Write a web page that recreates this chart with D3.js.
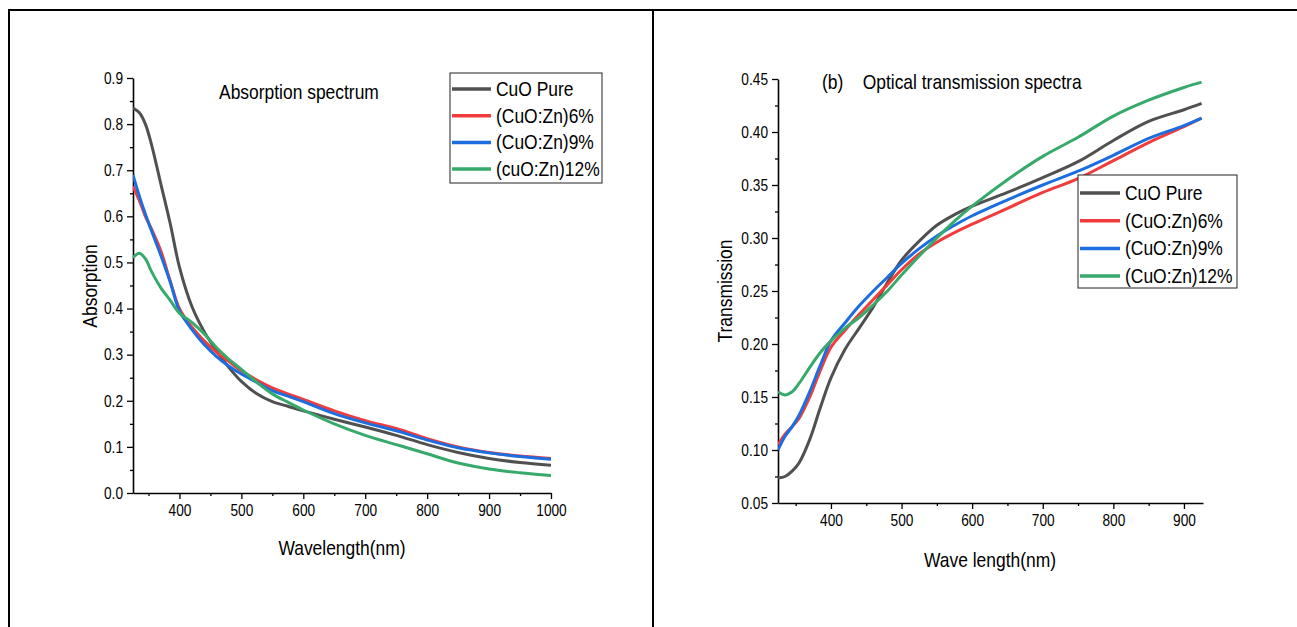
<!DOCTYPE html>
<html>
<head>
<meta charset="utf-8">
<script src="https://cdn.jsdelivr.net/npm/d3@7"></script>
<style>
  body { margin: 0; background: #fff; }
  text { font-family: "Liberation Sans", Arial, sans-serif; fill: #000; }
</style>
</head>
<body>
<div id="chart"></div>
<script>
// series names + colours
const seriesNames = ["CuO Pure", "(CuO:Zn)6%", "(CuO:Zn)9%", "(cuO:Zn)12%"];
const seriesNamesB = ["CuO Pure", "(CuO:Zn)6%", "(CuO:Zn)9%", "(CuO:Zn)12%"];
const colors = ["#505050", "#f03c3c", "#1c6ee0", "#37a96a"];

// (a) absorption
const absW = [325, 335, 345, 355, 370, 385, 400, 420, 440, 460, 480, 500, 525, 550, 575, 600, 650, 700, 750, 800, 850, 900, 950, 1000];
const absPure = [.835, .825, .80, .755, .67, .585, .49, .405, .35, .308, .272, .242, .215, .198, .188, .178, .16, .143, .125, .105, .088, .075, .066, .06];
const abs6 = [.665, .635, .60, .572, .525, .46, .40, .36, .33, .305, .285, .265, .245, .228, .215, .203, .178, .157, .14, .118, .10, .088, .08, .075];
const abs9 = [.69, .645, .605, .568, .515, .458, .395, .355, .322, .296, .275, .258, .24, .222, .21, .198, .172, .152, .135, .115, .098, .087, .079, .073];
const abs12 = [.51, .52, .508, .48, .445, .418, .39, .37, .345, .315, .29, .268, .24, .215, .197, .18, .15, .125, .105, .085, .065, .052, .044, .038];
const absXTicks = [400, 500, 600, 700, 800, 900, 1000];
const absYTicks = [0, .1, .2, .3, .4, .5, .6, .7, .8, .9];

// (b) transmission
const trW = [325, 335, 345, 355, 370, 385, 400, 420, 440, 460, 480, 500, 525, 550, 575, 600, 650, 700, 750, 800, 850, 900, 925];
const trPure = [.0735, .075, .08, .088, .11, .14, .168, .195, .215, .235, .258, .279, .297, .312, .322, .33, .343, .357, .372, .392, .41, .421, .427];
const tr6 = [.105, .115, .122, .13, .15, .175, .197, .213, .228, .242, .256, .27, .285, .296, .305, .313, .328, .343, .356, .373, .39, .405, .413];
const tr9 = [.10, .113, .122, .133, .155, .18, .203, .22, .236, .25, .263, .276, .29, .302, .312, .321, .336, .35, .363, .378, .394, .406, .413];
const tr12 = [.155, .152, .155, .163, .178, .192, .203, .215, .225, .237, .25, .265, .283, .30, .316, .33, .355, .377, .395, .415, .43, .442, .447];
const trXTicks = [400, 500, 600, 700, 800, 900];
const trYTicks = [.05, .10, .15, .20, .25, .30, .35, .40, .45];

const W = 1297, H = 627;
const svg = d3.select("#chart").append("svg")
  .attr("width", W).attr("height", H);

// outer frame lines
svg.append("line").attr("x1", 8).attr("x2", W).attr("y1", 10).attr("y2", 10)
  .attr("stroke", "#000").attr("stroke-width", 2);
svg.append("line").attr("x1", 9).attr("x2", 9).attr("y1", 10).attr("y2", H)
  .attr("stroke", "#000").attr("stroke-width", 2);
svg.append("line").attr("x1", 653).attr("x2", 653).attr("y1", 10).attr("y2", H)
  .attr("stroke", "#000").attr("stroke-width", 2);

function drawPanel(cfg) {
  const x = d3.scaleLinear().domain(cfg.xDomain).range([cfg.left, cfg.right]);
  const y = d3.scaleLinear().domain(cfg.yDomain).range([cfg.bottom, cfg.top]);
  const g = svg.append("g");

  // minor ticks
  g.append("g").attr("transform", `translate(0,${cfg.bottom})`)
    .call(d3.axisBottom(x).tickValues(cfg.xMinor).tickSize(3).tickFormat("").tickSizeOuter(0))
    .call(a => a.select(".domain").remove());
  g.append("g").attr("transform", `translate(${cfg.left},0)`)
    .call(d3.axisLeft(y).tickValues(cfg.yMinor).tickSize(3).tickFormat("").tickSizeOuter(0))
    .call(a => a.select(".domain").remove());

  // major axes
  const xa = g.append("g").attr("transform", `translate(0,${cfg.bottom})`)
    .call(d3.axisBottom(x).tickValues(cfg.xTicks).tickSize(6).tickSizeOuter(0).tickPadding(5)
      .tickFormat(d3.format("d")));
  const ya = g.append("g").attr("transform", `translate(${cfg.left},0)`)
    .call(d3.axisLeft(y).tickValues(cfg.yTicks).tickSize(6).tickSizeOuter(0).tickPadding(4)
      .tickFormat(d3.format(cfg.yFmt)));
  [xa, ya].forEach(a => {
    a.attr("font-family", null).attr("font-size", null);
    a.selectAll("text").style("font-size", "16.5px");
    a.select(".domain").attr("stroke-width", 1.6);
  });
  g.selectAll(".tick line").attr("stroke-width", 1.3);

  // axis titles
  g.append("text").attr("x", cfg.xTitleX).attr("y", cfg.xTitleY)
    .attr("text-anchor", "middle").style("font-size", "21px").text(cfg.xTitle);
  g.append("text").attr("transform", `translate(${cfg.yTitleX},${cfg.yTitleY}) rotate(-90)`)
    .attr("text-anchor", "middle").style("font-size", "21px").text(cfg.yTitle);

  // plot title
  g.append("text").attr("x", cfg.titleX).attr("y", cfg.titleY)
    .style("font-size", "21px").attr("xml:space", "preserve").text(cfg.title);

  // curves
  const clipId = "clip" + cfg.left;
  svg.append("clipPath").attr("id", clipId).append("rect")
    .attr("x", cfg.left).attr("y", cfg.top - 5)
    .attr("width", cfg.right - cfg.left).attr("height", cfg.bottom - cfg.top + 5);
  const line = d3.line().x(d => x(d[0])).y(d => y(d[1])).curve(d3.curveCatmullRom.alpha(0.5));
  g.append("g").attr("clip-path", `url(#${clipId})`)
    .selectAll("path")
    .data(cfg.series)
    .join("path")
    .attr("d", s => line(cfg.xs.map((w, i) => [w, s[i]])))
    .attr("fill", "none")
    .attr("stroke", (s, i) => colors[i])
    .attr("stroke-width", 3)
    .attr("stroke-linejoin", "round");

  // legend
  const lg = g.append("g").attr("transform", `translate(${cfg.legX},${cfg.legY})`);
  lg.append("rect").attr("width", cfg.legW).attr("height", cfg.legH)
    .attr("fill", "#fff").attr("stroke", "#222").attr("stroke-width", 1);
  cfg.names.forEach((n, i) => {
    const yy = cfg.legRow0 + i * cfg.legStep;
    lg.append("line").attr("x1", 2).attr("x2", cfg.legLine).attr("y1", yy).attr("y2", yy)
      .attr("stroke", colors[i]).attr("stroke-width", 3.5);
    lg.append("text").attr("x", cfg.legLine + 5).attr("y", yy + 7)
      .style("font-size", "21px").text(n);
  });
}

drawPanel({
  xDomain: [325, 1000], yDomain: [0, 0.9],
  left: 133, right: 551, top: 78, bottom: 493,
  xTicks: absXTicks, yTicks: absYTicks, yFmt: ".1f",
  xMinor: d3.range(350, 1000, 100), yMinor: d3.range(0.05, 0.9, 0.1),
  xTitle: "Wavelength(nm)", xTitleX: 342, xTitleY: 555,
  yTitle: "Absorption", yTitleX: 97, yTitleY: 286,
  title: "Absorption spectrum", titleX: 219, titleY: 99,
  xs: absW, series: [absPure, abs6, abs9, abs12], names: seriesNames,
  legX: 450, legY: 73, legW: 152, legH: 110, legLine: 41, legRow0: 16, legStep: 26.7
});

drawPanel({
  xDomain: [325, 927], yDomain: [0.05, 0.45],
  left: 778, right: 1203, top: 79, bottom: 503,
  xTicks: trXTicks, yTicks: trYTicks, yFmt: ".2f",
  xMinor: d3.range(350, 927, 100), yMinor: d3.range(0.075, 0.45, 0.05),
  xTitle: "Wave length(nm)", xTitleX: 990, xTitleY: 567,
  yTitle: "Transmission", yTitleX: 732, yTitleY: 291,
  title: "(b)    Optical transmission spectra", titleX: 822, titleY: 89,
  xs: trW, series: [trPure, tr6, tr9, tr12], names: seriesNamesB,
  legX: 1078, legY: 175, legW: 159, legH: 113, legLine: 42, legRow0: 18, legStep: 27.7
});

// the reference lettering is a condensed Arial: squeeze the glyphs horizontally
svg.selectAll("text").each(function() {
  const len = this.getComputedTextLength();
  if (len > 0) d3.select(this).attr("textLength", len * 0.83).attr("lengthAdjust", "spacingAndGlyphs");
});
</script>
</body>
</html>
